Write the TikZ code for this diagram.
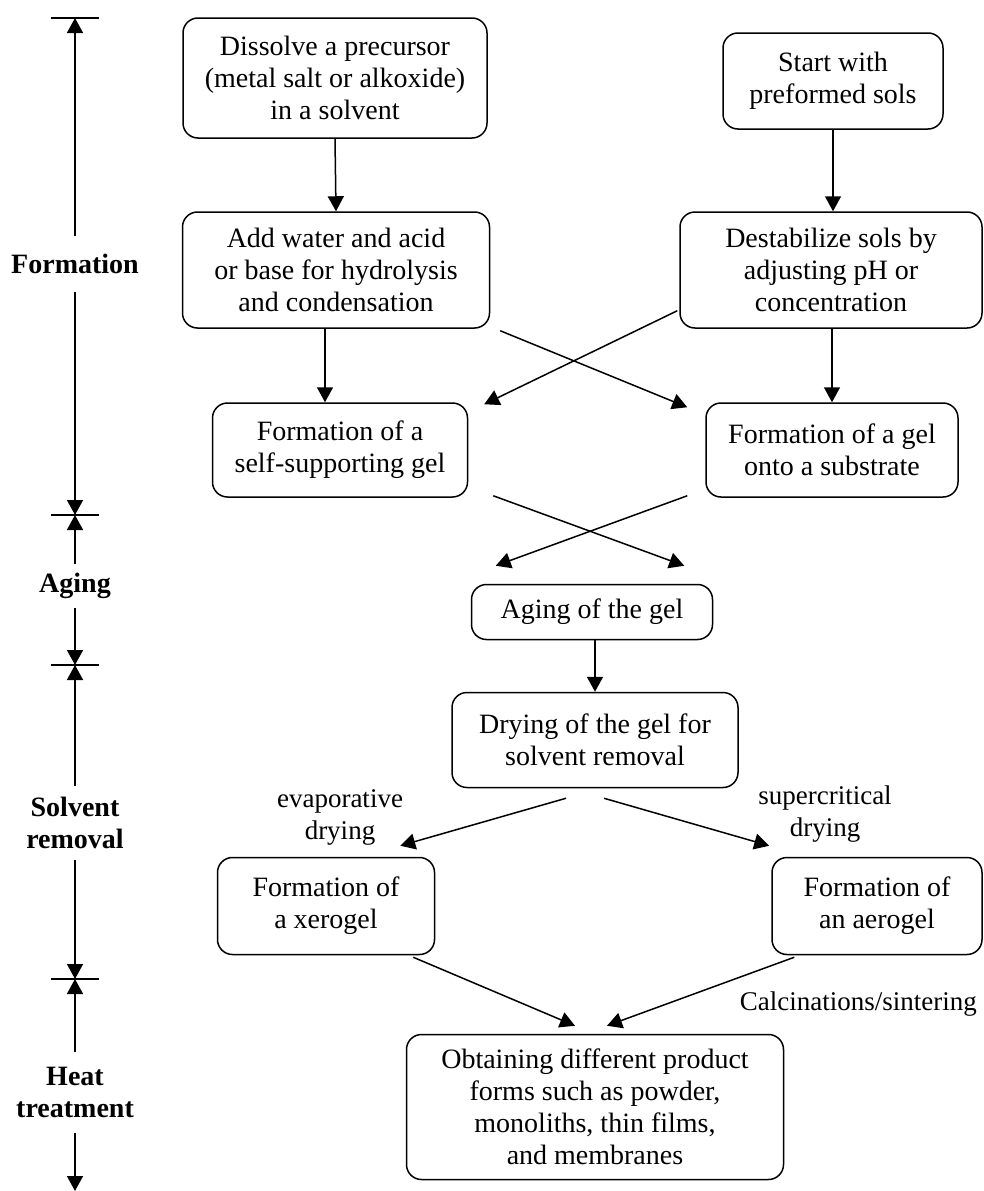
\documentclass[tikz,border=0pt]{standalone}
\usepackage{fontspec}
\setmainfont{Liberation Serif}
\usetikzlibrary{arrows.meta, calc}

\begin{document}
\begin{tikzpicture}[x=1pt, y=-1pt,
    stepbox/.style={rectangle, draw=black, line width=1.5pt, rounded corners=15pt,
        align=center, font=\fontsize{28}{32}\selectfont, inner sep=0pt},
    arr/.style={-{Triangle[length=15pt, width=16pt]}, line width=1.5pt},
    phase/.style={font=\fontsize{28}{32}\selectfont\bfseries, align=center,
        inner xsep=0pt},
    phasetick/.style={line width=1.5pt},
    note/.style={font=\fontsize{27}{32}\selectfont, align=center, inner sep=0pt}
]
\useasboundingbox (0,0) rectangle (984,1191);

% Formation
\node[stepbox, minimum width=304, minimum height=120] (dissolve) at (335,78)
    {Dissolve a precursor\\(metal salt or alkoxide)\\in a solvent};
\node[stepbox, minimum width=220, minimum height=96] (preformed) at (833,81)
    {Start with\\preformed sols};
\node[stepbox, minimum width=307, minimum height=116] (addwater) at (336,270)
    {Add water and acid\\or base for hydrolysis\\and condensation};
\node[stepbox, minimum width=302, minimum height=116] (destab) at (831,270)
    {Destabilize sols by\\adjusting pH or\\concentration};
\node[stepbox, minimum width=255, minimum height=94] (selfgel) at (340,450)
    {Formation of a\\self-supporting gel};
\node[stepbox, minimum width=252, minimum height=94] (subgel) at (832,450)
    {Formation of a gel\\onto a substrate};

% Aging
\node[stepbox, minimum width=241, minimum height=55] (aging) at (592,612)
    {Aging of the gel};

% Solvent removal
\node[stepbox, minimum width=286, minimum height=95] (drying) at (595,740)
    {Drying of the gel for\\solvent removal};
\node[stepbox, minimum width=217, minimum height=97] (xerogel) at (326,906)
    {Formation of\\a xerogel};
\node[stepbox, minimum width=210, minimum height=97] (aerogel) at (877,906)
    {Formation of\\an aerogel};
\node[note] (evap) at (340,817) {evaporative\\drying};
\node[note] (superc) at (825,814) {supercritical\\drying};

% Heat treatment
\node[stepbox, minimum width=377, minimum height=145] (products) at (595,1107)
    {Obtaining different product\\forms such as powder,\\monoliths, thin films,\\and membranes};
\node[note, anchor=east] (calc) at (977,1004) {Calcinations/sintering};

% Arrows between steps
\draw[arr] (dissolve.south) -- (addwater.north);
\draw[arr] (preformed.south) -- (preformed.south |- destab.north);
\draw[arr] ($(addwater.south)+(-11,0)$) -- ($(addwater.south |- selfgel.north)+(-11,0)$);
\draw[arr] (destab.south -| subgel.north) -- (subgel.north);
\draw[arr] ($(addwater.south east)+(10,2)$) -- ($(subgel.north west)+(-18,5)$);
\draw[arr] ($(destab.south west)+(-2,-18)$) -- ($(selfgel.north east)+(16,2)$);
\draw[arr] ($(selfgel.south east)+(25,-2)$) -- ($(aging.north east)+(-29,-18)$);
\draw[arr] ($(subgel.south west)+(-18,-2)$) -- ($(aging.north west)+(25,-18)$);
\draw[arr] (aging.south -| drying.north) -- (drying.north);
\draw[arr] ($(drying.south)+(-29,10)$) -- ($(xerogel.north east)+(-35,-11)$);
\draw[arr] ($(drying.south)+(9,10)$) -- ($(aerogel.north west)+(-2,-11)$);
\draw[arr] ($(xerogel.south east)+(-22,2)$) -- ($(products.north)+(-20,-8)$);
\draw[arr] ($(aerogel.south west)+(23,2)$) -- ($(products.north)+(12,-8)$);

% Phase axis
\coordinate (t0) at (75,18);
\coordinate (t1) at (75,515);
\coordinate (t2) at (75,665);
\coordinate (t3) at (75,979);
\coordinate (t4) at (75,1191);
\foreach \t in {t0,t1,t2,t3}
    \draw[phasetick] ($(\t)+(-24,0)$) -- ($(\t)+(24,0)$);

\node[phase, inner ysep=18pt] (formation) at (75,264) {Formation};
\node[phase, inner ysep=9pt] (agingph) at (75,586) {Aging};
\node[phase, inner ysep=11pt] (solvent) at (75,823) {Solvent\\removal};
\node[phase, inner ysep=15pt] (heat) at (75,1092) {Heat\\treatment};

\draw[arr] (formation.north) -- (t0);
\draw[arr] (formation.south) -- (t1);
\draw[arr] (agingph.north) -- (t1);
\draw[arr] (agingph.south) -- (t2);
\draw[arr] (solvent.north) -- (t2);
\draw[arr] (solvent.south) -- (t3);
\draw[arr] (heat.north) -- (t3);
\draw[arr] (heat.south) -- (t4);

\end{tikzpicture}
\end{document}
